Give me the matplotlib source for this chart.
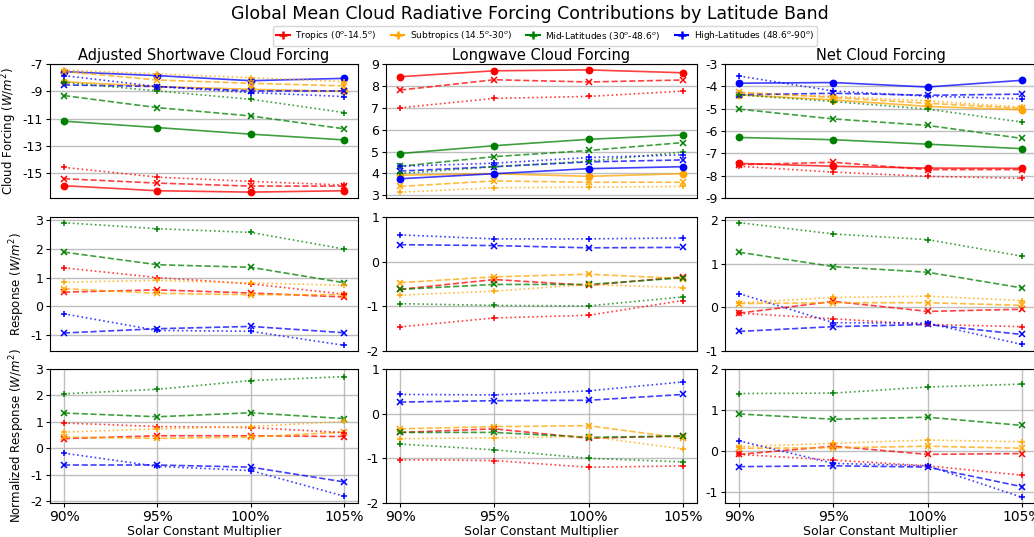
import matplotlib
import matplotlib.pyplot as plt
from matplotlib.lines import Line2D

matplotlib.use("Agg")
plt.rcParams["axes.unicode_minus"] = False

multipliers = ["90%", "95%", "100%", "105%"]
x_vals = [90, 95, 100, 105]

bands = ["Tropics (0$^o$-14.5$^o$)", "Subtropics (14.5$^o$-30$^o$)",
         "Mid-Latitudes (30$^o$-48.6$^o$)", "High-Latitudes (48.6$^o$-90$^o$)"]
colors = ["red", "orange", "green", "blue"]

# rows: tropics, subtropics, mid-latitudes, high-latitudes
sw_forcing_solid = [[-15.90, -16.27, -16.37, -16.27], [-8.30, -8.65, -8.85, -9.00],
                    [-11.18, -11.65, -12.13, -12.55], [-7.56, -7.85, -8.22, -8.05]]
sw_forcing_dash = [[-15.39, -15.71, -15.93, -15.93], [-7.55, -8.17, -8.41, -8.60],
                   [-9.31, -10.19, -10.80, -11.74], [-8.53, -8.65, -8.97, -8.97]]
sw_forcing_dot = [[-14.56, -15.27, -15.59, -15.85], [-7.44, -7.73, -8.00, -8.29],
                  [-8.34, -8.97, -9.58, -10.55], [-7.85, -8.65, -9.09, -9.38]]

lw_forcing_solid = [[8.42, 8.69, 8.73, 8.60], [3.92, 3.99, 3.87, 3.99],
                    [4.91, 5.27, 5.56, 5.76], [3.76, 3.99, 4.22, 4.31]]
lw_forcing_dash = [[7.81, 8.28, 8.18, 8.27], [3.41, 3.66, 3.60, 3.60],
                   [4.33, 4.77, 5.05, 5.41], [4.11, 4.31, 4.53, 4.62]]
lw_forcing_dot = [[7.00, 7.43, 7.52, 7.76], [3.14, 3.35, 3.37, 3.41],
                  [4.00, 4.31, 4.56, 4.98], [4.33, 4.47, 4.73, 4.85]]

net_forcing_solid = [[-7.45, -7.58, -7.66, -7.67], [-4.38, -4.61, -4.90, -5.05],
                     [-6.29, -6.39, -6.59, -6.79], [-3.86, -3.83, -4.03, -3.73]]
net_forcing_dash = [[-7.51, -7.40, -7.73, -7.73], [-4.26, -4.50, -4.76, -4.98],
                    [-5.02, -5.46, -5.75, -6.33], [-4.38, -4.31, -4.40, -4.35]]
net_forcing_dot = [[-7.58, -7.84, -8.03, -8.12], [-4.30, -4.45, -4.65, -4.93],
                   [-4.38, -4.68, -5.02, -5.60], [-3.54, -4.21, -4.44, -4.56]]

sw_resp_dash = [[0.49, 0.57, 0.46, 0.32], [0.61, 0.45, 0.40, 0.40],
                [1.89, 1.45, 1.36, 0.82], [-0.94, -0.79, -0.71, -0.93]]
sw_resp_dot = [[1.34, 1.00, 0.78, 0.42], [0.84, 0.90, 0.81, 0.73],
               [2.92, 2.71, 2.58, 2.00], [-0.27, -0.85, -0.88, -1.37]]
lw_resp_dash = [[-0.62, -0.40, -0.53, -0.34], [-0.47, -0.34, -0.28, -0.38],
                [-0.62, -0.51, -0.51, -0.36], [0.38, 0.36, 0.31, 0.32]]
lw_resp_dot = [[-1.46, -1.26, -1.20, -0.87], [-0.75, -0.66, -0.51, -0.58],
               [-0.94, -0.98, -0.99, -0.79], [0.60, 0.51, 0.51, 0.53]]
net_resp_dash = [[-0.13, 0.14, -0.09, -0.04], [0.09, 0.11, 0.11, 0.05],
                 [1.27, 0.94, 0.81, 0.45], [-0.55, -0.44, -0.39, -0.62]]
net_resp_dot = [[-0.13, -0.26, -0.39, -0.44], [0.11, 0.23, 0.26, 0.16],
                [1.95, 1.69, 1.56, 1.18], [0.32, -0.35, -0.36, -0.85]]

sw_norm_dash = [[0.36, 0.47, 0.47, 0.44], [0.42, 0.37, 0.42, 0.61],
                [1.33, 1.19, 1.34, 1.12], [-0.64, -0.64, -0.72, -1.28]]
sw_norm_dot = [[0.95, 0.82, 0.78, 0.59], [0.61, 0.73, 0.82, 1.01],
               [2.06, 2.23, 2.56, 2.71], [-0.19, -0.69, -0.85, -1.82]]
lw_norm_dash = [[-0.42, -0.34, -0.55, -0.50], [-0.34, -0.29, -0.27, -0.55],
                [-0.42, -0.42, -0.53, -0.50], [0.26, 0.29, 0.30, 0.43]]
lw_norm_dot = [[-1.03, -1.05, -1.20, -1.17], [-0.56, -0.54, -0.51, -0.79],
               [-0.68, -0.81, -1.00, -1.08], [0.43, 0.42, 0.51, 0.71]]
net_norm_dash = [[-0.09, 0.11, -0.09, -0.07], [0.06, 0.07, 0.11, 0.06],
                 [0.90, 0.77, 0.82, 0.62], [-0.39, -0.37, -0.40, -0.88]]
net_norm_dot = [[-0.09, -0.23, -0.37, -0.60], [0.10, 0.18, 0.26, 0.22],
                [1.40, 1.41, 1.56, 1.63], [0.24, -0.31, -0.37, -1.14]]

col_titles = ["Adjusted Shortwave Cloud Forcing", "Longwave Cloud Forcing", "Net Cloud Forcing"]
row_labels = ["Cloud Forcing ($W/m^2$)", "Response ($W/m^2$)", "Normalized Response ($W/m^2$)"]

# panel grid: [row][col] -> list of (series, linestyle, marker)
panels = [
    [[(sw_forcing_solid, "-", "o"), (sw_forcing_dash, "--", "x"), (sw_forcing_dot, ":", "+")],
     [(lw_forcing_solid, "-", "o"), (lw_forcing_dash, "--", "x"), (lw_forcing_dot, ":", "+")],
     [(net_forcing_solid, "-", "o"), (net_forcing_dash, "--", "x"), (net_forcing_dot, ":", "+")]],
    [[(sw_resp_dash, "--", "x"), (sw_resp_dot, ":", "+")],
     [(lw_resp_dash, "--", "x"), (lw_resp_dot, ":", "+")],
     [(net_resp_dash, "--", "x"), (net_resp_dot, ":", "+")]],
    [[(sw_norm_dash, "--", "x"), (sw_norm_dot, ":", "+")],
     [(lw_norm_dash, "--", "x"), (lw_norm_dot, ":", "+")],
     [(net_norm_dash, "--", "x"), (net_norm_dot, ":", "+")]],
]

yticks = [
    [[-15, -13, -11, -9, -7], [3, 4, 5, 6, 7, 8, 9], [-9, -8, -7, -6, -5, -4, -3]],
    [[-1, 0, 1, 2, 3], [-2, -1, 0, 1], [-1, 0, 1, 2]],
    [[-2, -1, 0, 1, 2, 3], [-2, -1, 0, 1], [-1, 0, 1, 2]],
]
ylims = [
    [(-16.8, -7), (2.88, 9), (-9, -3)],
    [(-1.57, 3.12), (-2, 1), (-1.0, 2.08)],
    [(-2.08, 3), (-2, 1), (-1.28, 2)],
]

W, H = 1034, 537
fig = plt.figure(figsize=(W / 100, H / 100), dpi=100)

col_px = [(50, 358), (386, 697), (725, 1036)]
row_px = [(64, 198), (217, 351), (369, 503)]

for r in range(3):
    for c in range(3):
        x0, x1 = col_px[c]
        y0, y1 = row_px[r]
        ax = fig.add_axes([x0 / W, 1 - y1 / H, (x1 - x0) / W, (y1 - y0) / H])
        for series, ls, mk in panels[r][c]:
            for band_idx, vals in enumerate(series):
                col = colors[band_idx]
                ax.plot(x_vals, vals, linestyle=ls, color=col, linewidth=1.2, alpha=0.75)
                ms = 4.5 if mk == "o" else 4.5
                ax.plot(x_vals, vals, linestyle="none", marker=mk, color=col,
                        markersize=ms, markeredgewidth=1.1)
        ax.set_yticks(yticks[r][c])
        ax.set_ylim(*ylims[r][c])
        ax.set_xlim(89.25, 105.75)
        ax.grid(True, axis="y", color="#b0b0b0", linewidth=1.0, alpha=0.8)
        ax.tick_params(labelsize=9, length=3, pad=2)
        if r == 2:
            ax.set_xticks(x_vals)
            ax.set_xticklabels(multipliers, fontsize=10)
            ax.grid(True, axis="x", color="#b0b0b0", linewidth=1.0, alpha=0.8)
            ax.set_xlabel("Solar Constant Multiplier", fontsize=9, labelpad=1)
        else:
            ax.set_xticks([])
        if r == 0:
            ax.set_title(col_titles[c], fontsize=10.5, pad=3)
        if c == 0:
            ax.set_ylabel(row_labels[r], fontsize=8.5, labelpad=3)

fig.suptitle("Global Mean Cloud Radiative Forcing Contributions by Latitude Band",
             fontsize=12.5, x=530 / W, y=1 - 5 / H, va="top")

handles = [Line2D([], [], color=col, marker="+", markersize=6, markeredgewidth=1.8,
                  linewidth=1.5) for col in colors]
fig.legend(handles, bands, loc="center", bbox_to_anchor=(545 / W, 1 - 36 / H),
           ncol=4, fontsize=6.5, frameon=True, handlelength=1.5, columnspacing=1.6,
           borderpad=0.4, handletextpad=0.6)

fig.savefig("out.png", dpi=100)
plt.close(fig)
